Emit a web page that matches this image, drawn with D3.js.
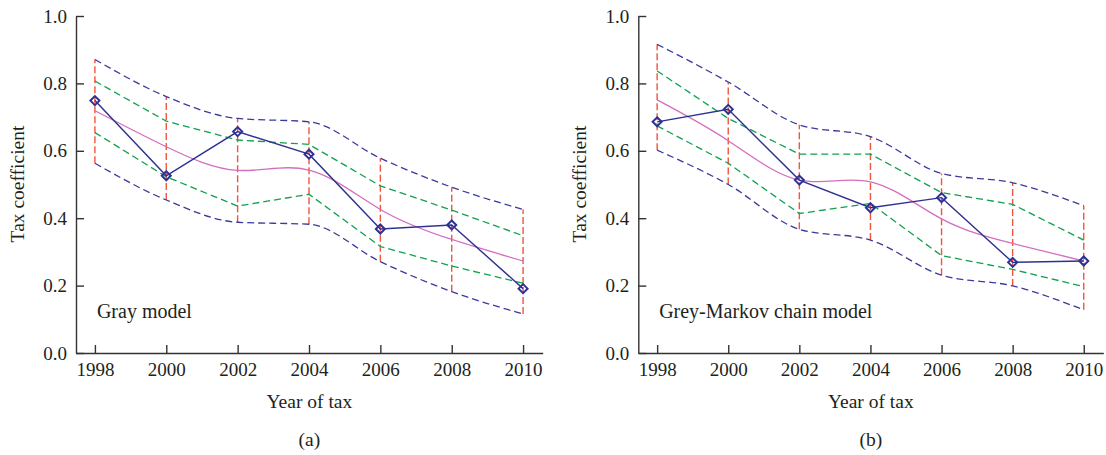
<!DOCTYPE html>
<html lang="en">
<head>
    <meta charset="UTF-8">
    <script src="https://d3js.org/d3.v7.min.js"></script>
    <style>
        body { margin: 0; background: #fff; }
        text { font-family: "Liberation Serif", "DejaVu Serif", serif; fill: #231f20; }
        .axis text { font-size: 19px; }
        .axis path, .axis line { stroke: #333; stroke-width: 1.4px; }
        .label { font-size: 19.5px; text-anchor: middle; }
        .model { font-size: 20px; }
        .band { fill: none; stroke-width: 1.3px; }
        .upper, .lower { stroke: #3a3a9c; stroke-dasharray: 7,4; }
        .inner { stroke: #12a04c; stroke-dasharray: 7,4; }
        .fit { fill: none; stroke: #d46ec0; stroke-width: 1.3px; }
        .actual { fill: none; stroke: #2e3192; stroke-width: 1.4px; }
        .range { stroke: #f2553b; stroke-width: 1.4px; stroke-dasharray: 7,3; }
        .marker { fill: none; stroke: #2e3192; stroke-width: 2px; }
    </style>
    <title>Tax coefficient</title>
</head>
<body>
<svg id="chart" width="1106" height="455"></svg>
<script>
    const years = [1998, 2000, 2002, 2004, 2006, 2008, 2010];
    const yTicks = [0, 0.2, 0.4, 0.6, 0.8, 1.0];

    // panel (a): gray model
    const grayActual = [0.749, 0.526, 0.657, 0.590, 0.368, 0.380, 0.191];
    const grayFit    = [0.719, 0.612, 0.542, 0.543, 0.426, 0.337, 0.273];
    const grayUpper  = [0.871, 0.761, 0.696, 0.686, 0.578, 0.492, 0.426];
    const grayInnerU = [0.807, 0.688, 0.632, 0.619, 0.496, 0.424, 0.348];
    const grayInnerL = [0.654, 0.523, 0.436, 0.471, 0.316, 0.258, 0.207];
    const grayLower  = [0.563, 0.454, 0.388, 0.382, 0.271, 0.182, 0.116];

    // panel (b): grey-markov chain model
    const markovActual = [0.686, 0.723, 0.513, 0.431, 0.461, 0.269, 0.273];
    const markovFit    = [0.751, 0.630, 0.513, 0.508, 0.398, 0.325, 0.273];
    const markovUpper  = [0.916, 0.804, 0.677, 0.642, 0.533, 0.505, 0.437];
    const markovInnerU = [0.837, 0.696, 0.590, 0.590, 0.476, 0.441, 0.335];
    const markovInnerL = [0.674, 0.563, 0.414, 0.444, 0.289, 0.248, 0.197];
    const markovLower  = [0.602, 0.500, 0.367, 0.335, 0.231, 0.199, 0.128];

    const svg = d3.select("#chart");

    const y = d3.scaleLinear().domain([0, 1]).range([353, 16]);

    function drawPanel(left, right, name, tag, actual, fit, upper, innerU, innerL, lower) {
        const x = d3.scaleLinear().domain([1997.47, 2010.55]).range([left, right]);
        const g = svg.append("g");

        const band = d3.line()
            .x((d, i) => x(years[i]))
            .y(d => y(d))
            .curve(d3.curveMonotoneX);
        const smooth = d3.line()
            .x((d, i) => x(years[i]))
            .y(d => y(d))
            .curve(d3.curveNatural);
        const straight = d3.line()
            .x((d, i) => x(years[i]))
            .y(d => y(d));

        // vertical interval lines
        g.selectAll(".range").data(years)
            .enter().append("line")
            .attr("class", "range")
            .attr("x1", d => x(d)).attr("x2", d => x(d))
            .attr("y1", (d, i) => y(lower[i]))
            .attr("y2", (d, i) => y(upper[i]));

        g.append("path").datum(upper).attr("class", "band upper").attr("d", band);
        g.append("path").datum(lower).attr("class", "band lower").attr("d", band);
        g.append("path").datum(innerU).attr("class", "band inner").attr("d", straight);
        g.append("path").datum(innerL).attr("class", "band inner").attr("d", straight);
        g.append("path").datum(fit).attr("class", "fit").attr("d", smooth);
        g.append("path").datum(actual).attr("class", "actual").attr("d", straight);

        g.selectAll(".marker").data(actual)
            .enter().append("path")
            .attr("class", "marker")
            .attr("transform", (d, i) => "translate(" + x(years[i]) + "," + y(d) + ")")
            .attr("d", "M0,-4.5L4.5,0L0,4.5L-4.5,0Z");

        // axes
        g.append("g")
            .attr("class", "axis")
            .attr("transform", "translate(0,353)")
            .call(d3.axisBottom(x).tickValues(years).tickFormat(d3.format("d"))
                .tickSizeInner(-8).tickSizeOuter(0).tickPadding(10));
        g.append("g")
            .attr("class", "axis")
            .attr("transform", "translate(" + left + ",0)")
            .call(d3.axisLeft(y).tickValues(yTicks).tickFormat(d3.format(".1f"))
                .tickSizeInner(-8).tickSizeOuter(0).tickPadding(9));

        const mid = (left + right) / 2;
        g.append("text").attr("class", "model")
            .attr("x", x(1998) + 2).attr("y", 318).text(name);
        g.append("text").attr("class", "label")
            .attr("x", mid).attr("y", 408).text("Year of tax");
        g.append("text").attr("class", "label")
            .attr("x", mid).attr("y", 446).text(tag);
        g.append("text").attr("class", "label")
            .attr("transform", "translate(" + (left - 52) + ",184) rotate(-90)")
            .text("Tax coefficient");
    }

    drawPanel(76, 542.7, "Gray model", "(a)",
        grayActual, grayFit, grayUpper, grayInnerU, grayInnerL, grayLower);
    drawPanel(638.3, 1103.3, "Grey-Markov chain model", "(b)",
        markovActual, markovFit, markovUpper, markovInnerU, markovInnerL, markovLower);
</script>
</body>
</html>
